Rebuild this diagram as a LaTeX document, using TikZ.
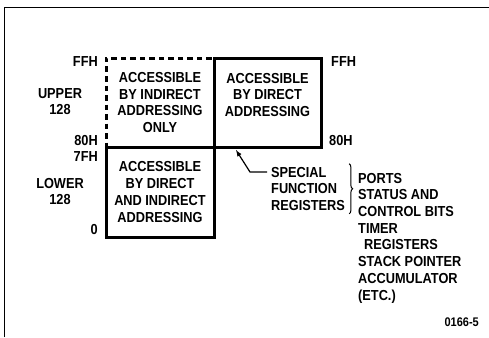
\documentclass[tikz,border=0pt]{standalone}
\usepackage{fontspec}
\setmainfont{Liberation Sans}[FakeStretch=0.88]
\usetikzlibrary{decorations.pathreplacing}
\tikzset{
  membox/.style={draw, line width=3pt, inner sep=0pt},
  txt/.style={font=\fontsize{14.5}{16.7}\selectfont\bfseries, align=center, inner sep=0pt},
  lbl/.style={font=\fontsize{14.5}{16.7}\selectfont\bfseries, inner sep=0pt}
}
\begin{document}
\begin{tikzpicture}[x=1pt, y=-1pt, >=latex]
\useasboundingbox (0,0) rectangle (489,337);
\draw[line width=1.3pt] (4.5,337) |- (489,7.5);
% memory boxes
\node[membox, dash pattern=on 5.5pt off 4pt, minimum width=108pt, minimum height=89pt] (upperind) at (160,102.5) {};
\node[membox, minimum width=107pt, minimum height=89pt] (upperdir) at (267.5,102.5) {};
\node[membox, minimum width=108pt, minimum height=90pt] (lower) at (160,192) {};
\node[txt] (upperindtxt) at (upperind.center) {ACCESSIBLE\\BY INDIRECT\\ADDRESSING\\ONLY};
\node[txt, anchor=north] (upperdirtxt) at (267.5,72.8) {ACCESSIBLE\\BY DIRECT\\ADDRESSING};
\node[txt] (lowertxt) at (lower.center) {ACCESSIBLE\\BY DIRECT\\AND INDIRECT\\ADDRESSING};
% addresses
\node[lbl, anchor=east] (ffhl) at (98,62) {FFH};
\node[lbl, anchor=east] (e80l) at (98,141) {80H};
\node[lbl, anchor=east] (e7fl) at (98,157) {7FH};
\node[lbl, anchor=east] (zero) at (98,230) {0};
\node[lbl, anchor=west] (ffhr) at (331,62) {FFH};
\node[lbl, anchor=west] (e80r) at (329,141) {80H};
\node[txt] (upper) at (60,101.5) {UPPER\\128};
\node[txt] (lowerlbl) at (60,191.5) {LOWER\\128};
% special function registers
\node[txt, align=left, anchor=north west] (sfr) at (271,166.8) {SPECIAL\\FUNCTION\\REGISTERS};
\node[txt, align=left, anchor=north west] (sfrlist) at (358,172.8) {PORTS\\STATUS AND\\CONTROL BITS\\TIMER\\\hspace*{6pt}REGISTERS\\STACK POINTER\\ACCUMULATOR\\(ETC.)};
\coordinate (sfrpt) at (236,150);
\draw[->, line width=1.2pt] ([xshift=-4pt, yshift=-5.2pt]sfr.north west) -- ++(-17,0) -- (sfrpt);
\draw[line width=1pt, decorate, decoration={brace, amplitude=3.5pt}] ([xshift=4pt, yshift=3pt]sfr.north east) -- ([xshift=4pt, yshift=-3pt]sfr.south east);
\node[font=\fontsize{12.5}{14}\selectfont\bfseries, anchor=east, inner sep=0pt] (fig) at (479,322) {0166-5};
\end{tikzpicture}
\end{document}
